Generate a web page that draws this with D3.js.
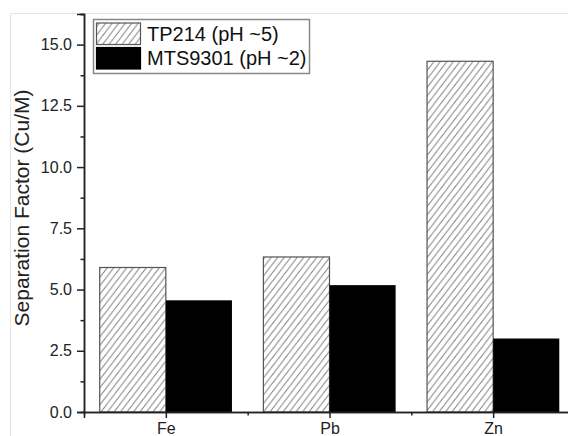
<!DOCTYPE html>
<html>
<head>
<meta charset="utf-8">
<script src="https://cdn.jsdelivr.net/npm/d3@7"></script>
<style>
  html, body { margin: 0; padding: 0; background: #fff; }
  svg { display: block; font-family: "Liberation Sans", Arial, sans-serif; }
</style>
</head>
<body>
<div id="chart"></div>
<script>
    const metals = ["Fe", "Pb", "Zn"];
    const tp214 = [5.90, 6.33, 14.32];
    const mts9301 = [4.56, 5.18, 3.00];
    const seriesNames = ["TP214 (pH ~5)", "MTS9301 (pH ~2)"];
    const yMajorTicks = [0, 2.5, 5, 7.5, 10, 12.5, 15];

    const W = 568, H = 436;
    const svg = d3.select("#chart").append("svg")
      .attr("width", W)
      .attr("height", H);

    // hatch pattern for the TP214 bars
    const defs = svg.append("defs");
    const hw = 6.5, hh = 8.5;
    defs.append("pattern")
      .attr("id", "hatch")
      .attr("patternUnits", "userSpaceOnUse")
      .attr("width", hw)
      .attr("height", hh)
      .append("path")
      .attr("d", `M-1,1 l2,-2 M0,${hh} L${hw},0 M${hw - 1},${hh + 1} l2,-2`)
      .attr("stroke", "#7a7a7a")
      .attr("stroke-width", 1)
      .attr("fill", "none");

    // faint frame of the original figure
    svg.append("path")
      .attr("d", `M10.5,${H} V13.5 H${W}`)
      .attr("fill", "none")
      .attr("stroke", "#e4e4e4")
      .attr("stroke-width", 1);

    const x0 = 84, x1 = 575, yBottom = 412, yTop = 14;
    const x = d3.scaleLinear().domain([0.5, 3.5]).range([x0, x1]);
    const y = d3.scaleLinear().domain([0, 16.25]).range([yBottom, yTop]);
    const barW = 0.404;

    const g = svg.append("g");

    // TP214 (hatched) bars
    g.selectAll(".bar-tp")
      .data(tp214)
      .enter().append("rect")
      .attr("class", "bar-tp")
      .attr("x", (d, i) => x(i + 1 - barW))
      .attr("y", d => y(d))
      .attr("width", (d, i) => x(i + 1) - x(i + 1 - barW))
      .attr("height", d => yBottom - y(d))
      .attr("fill", "url(#hatch)")
      .attr("stroke", "#555")
      .attr("stroke-width", 1.2);

    // MTS9301 (black) bars
    g.selectAll(".bar-mts")
      .data(mts9301)
      .enter().append("rect")
      .attr("class", "bar-mts")
      .attr("x", (d, i) => x(i + 1))
      .attr("y", d => y(d))
      .attr("width", (d, i) => x(i + 1 + barW) - x(i + 1))
      .attr("height", d => yBottom - y(d))
      .attr("fill", "#000");

    // y axis: major + minor ticks
    const yMinor = d3.range(1.25, 16.3, 2.5);
    const yAxisG = svg.append("g").attr("transform", `translate(${x0},0)`);
    yAxisG.call(d3.axisLeft(y).tickValues(yMinor).tickSize(3.5).tickFormat(""));
    yAxisG.call(g2 => g2.append("g")
      .call(d3.axisLeft(y).tickValues(yMajorTicks).tickSize(7).tickPadding(5).tickFormat(d3.format(".1f"))));
    yAxisG.selectAll(".domain").attr("stroke", "#222").attr("stroke-width", 1.5);
    yAxisG.selectAll(".tick line").attr("stroke", "#222").attr("stroke-width", 1.5);
    yAxisG.selectAll("text").attr("font-size", 16).attr("fill", "#222")
      .attr("font-family", "Liberation Sans, Arial, sans-serif");

    // x axis
    const xAxisG = svg.append("g").attr("transform", `translate(0,${yBottom})`);
    xAxisG.call(d3.axisBottom(x).tickValues([1.5, 2.5]).tickSize(3.5).tickFormat(""));
    xAxisG.call(g2 => g2.append("g")
      .call(d3.axisBottom(x).tickValues([1, 2, 3]).tickSize(6).tickPadding(5).tickFormat((d, i) => metals[i])));
    xAxisG.selectAll(".domain").attr("stroke", "#222").attr("stroke-width", 1.5);
    xAxisG.selectAll(".tick line").attr("stroke", "#222").attr("stroke-width", 1.5);
    xAxisG.selectAll("text").attr("font-size", 16).attr("fill", "#222")
      .attr("font-family", "Liberation Sans, Arial, sans-serif");

    // y axis title
    svg.append("text")
      .attr("transform", `translate(29,208) rotate(-90)`)
      .attr("text-anchor", "middle")
      .attr("font-size", 21)
      .attr("fill", "#222")
      .text("Separation Factor (Cu/M)");

    // legend
    const legend = svg.append("g");
    legend.append("rect")
      .attr("x", 93.5).attr("y", 19.5)
      .attr("width", 216).attr("height", 54)
      .attr("fill", "#fff")
      .attr("stroke", "#888")
      .attr("stroke-width", 1.5);
    const swatches = [{ fill: "url(#hatch)", stroke: "#555" }, { fill: "#000", stroke: "#000" }];
    seriesNames.forEach((name, i) => {
      legend.append("rect")
        .attr("x", 96.5).attr("y", 23 + i * 24.5)
        .attr("width", 44).attr("height", 21.5)
        .attr("fill", swatches[i].fill)
        .attr("stroke", swatches[i].stroke)
        .attr("stroke-width", 1.2);
      legend.append("text")
        .attr("x", 147).attr("y", 40.5 + i * 24.5)
        .attr("font-size", 20)
        .attr("fill", "#111")
        .text(name);
    });
</script>
</body>
</html>
